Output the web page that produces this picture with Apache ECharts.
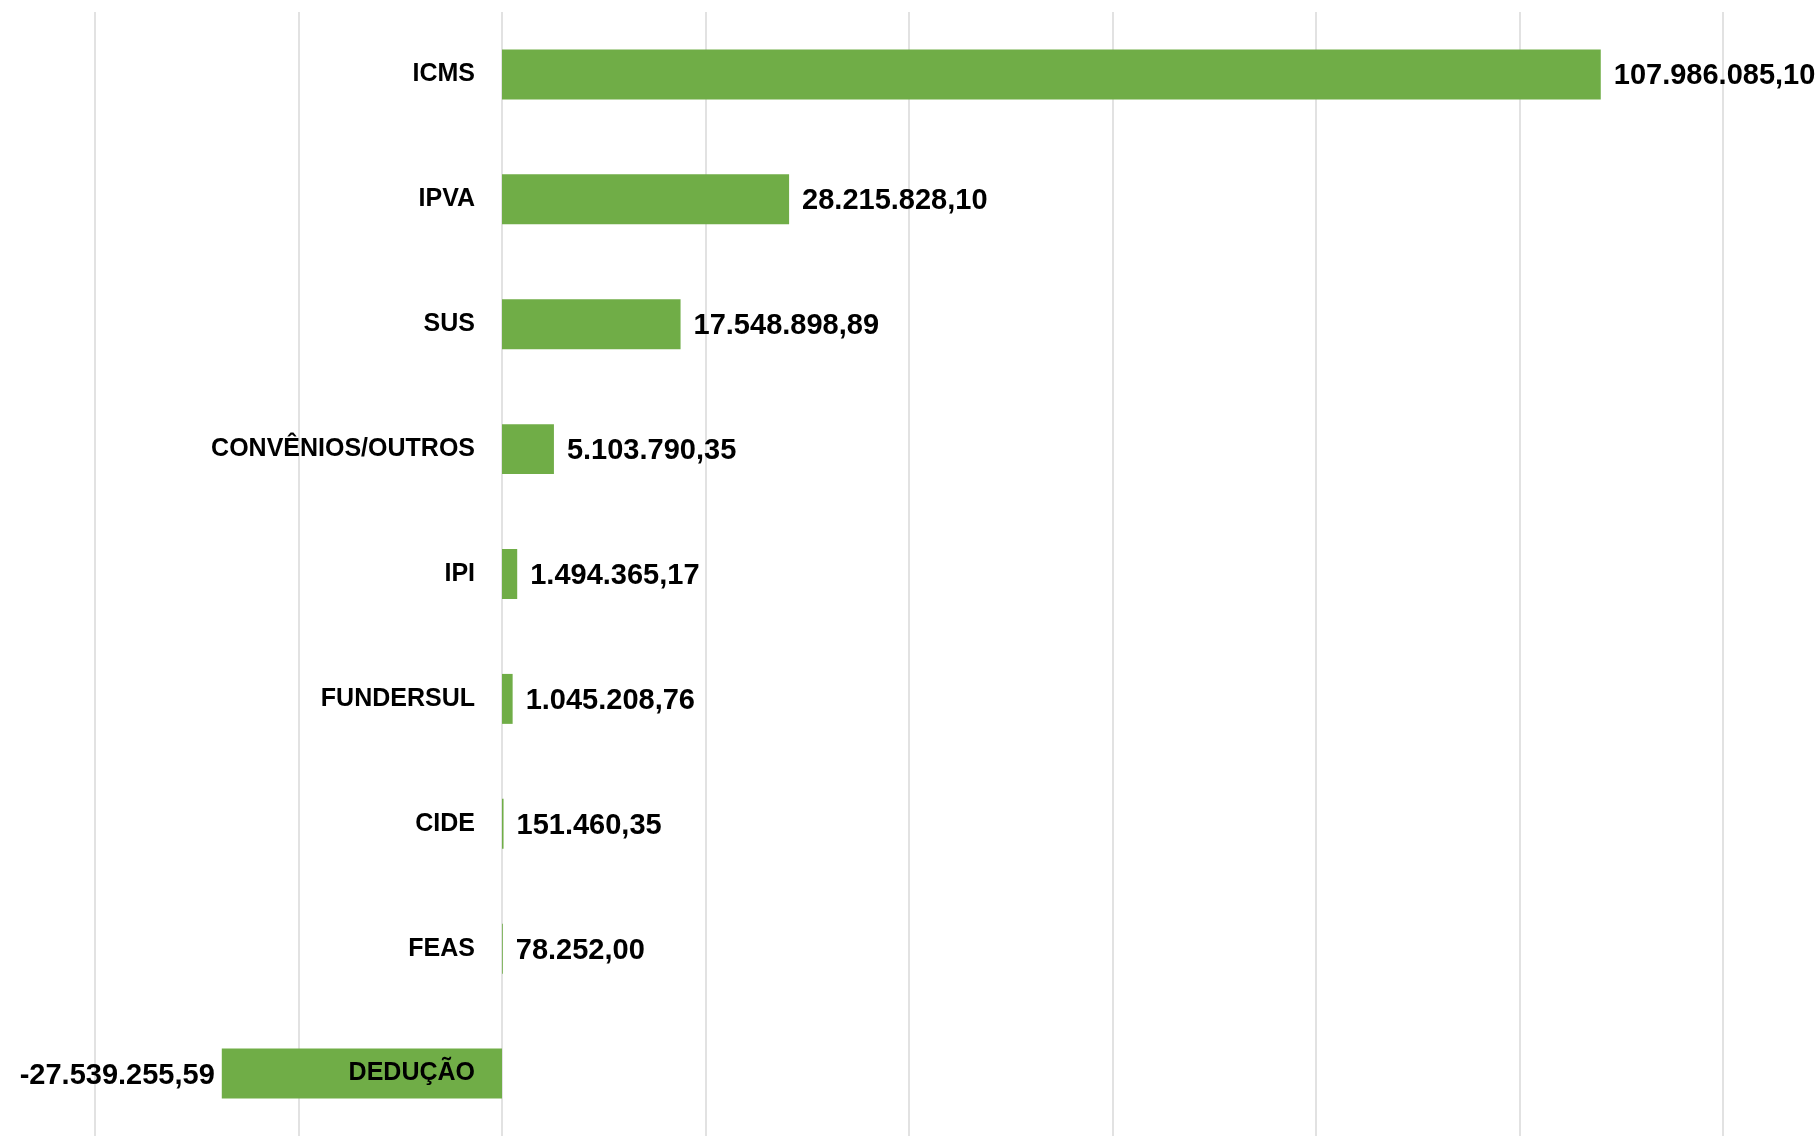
<!DOCTYPE html>
<html>
<head>
<meta charset="utf-8">
<script src="https://cdn.jsdelivr.net/npm/echarts@6/dist/echarts.min.js"></script>
<style>
html,body{margin:0;padding:0;background:#fff;}
#chart{width:1818px;height:1138px;}
</style>
</head>
<body>
<div id="chart"></div>
<script>
const categories = ['ICMS', 'IPVA', 'SUS', 'CONVÊNIOS/OUTROS', 'IPI', 'FUNDERSUL', 'CIDE', 'FEAS', 'DEDUÇÃO'];
const values = [107986085.10, 28215828.10, 17548898.89, 5103790.35, 1494365.17, 1045208.76, 151460.35, 78252.00, -27539255.59];
const axisMin = -40000000;
const axisMax = 120000000;
const axisInterval = 20000000;

function fmtBR(v) {
  const neg = v < 0;
  const a = Math.abs(v);
  const fixed = a.toFixed(2);
  const parts = fixed.split('.');
  const intPart = parts[0].replace(/\B(?=(\d{3})+(?!\d))/g, '.');
  return (neg ? '-' : '') + intPart + ',' + parts[1];
}

const FONT = '"Liberation Sans", Arial, sans-serif';
const GRID_LEFT = 95;

const chart = echarts.init(document.getElementById('chart'), null, {renderer: 'canvas'});
chart.setOption({
  backgroundColor: '#ffffff',
  animation: false,
  grid: {left: GRID_LEFT, right: 95, top: 12, bottom: 2, containLabel: false, outerBoundsMode: 'none'},
  xAxis: {
    type: 'value',
    min: axisMin,
    max: axisMax,
    interval: axisInterval,
    axisLabel: {show: false},
    axisLine: {show: false},
    axisTick: {show: false},
    splitLine: {show: true, lineStyle: {color: '#D9D9D9', width: 1.5}}
  },
  yAxis: {
    type: 'category',
    data: categories,
    inverse: true,
    z: 10,
    offset: 0,
    axisLine: {show: false, onZero: false},
    axisTick: {show: false},
    axisLabel: {
      interval: 0,
      margin: 27,
      color: '#000000',
      fontFamily: FONT,
      fontWeight: 'bold',
      fontSize: 25
    }
  },
  series: [{
    type: 'bar',
    barCategoryGap: '60%',
    itemStyle: {color: '#70AD47'},
    data: values.map(v => ({
      value: v,
      label: {position: v < 0 ? 'left' : 'right', distance: v < 0 ? 7 : 13}
    })),
    label: {
      show: true,
      color: '#000000',
      fontFamily: FONT,
      fontWeight: 'bold',
      fontSize: 29,
      offset: [0, 2],
      formatter: p => fmtBR(p.value)
    }
  }]
});
// move the category labels to the zero line of the value axis
const zeroPx = chart.convertToPixel({xAxisIndex: 0}, 0);
const leftPx = chart.convertToPixel({xAxisIndex: 0}, axisMin);
chart.setOption({yAxis: {offset: -(zeroPx - leftPx)}});
</script>
</body>
</html>
